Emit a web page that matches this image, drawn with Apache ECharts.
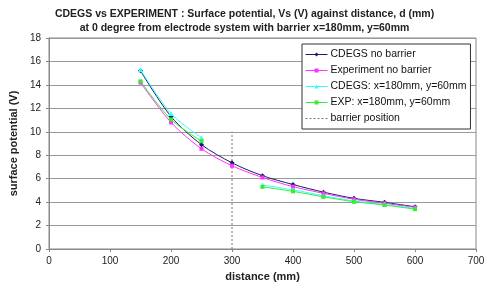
<!DOCTYPE html>
<html>
<head>
<meta charset="utf-8">
<script src="https://cdn.jsdelivr.net/npm/echarts@6/dist/echarts.min.js"></script>
<style>
  html, body { margin: 0; padding: 0; background: #fff; }
  #chart { width: 489px; height: 291px; }
</style>
</head>
<body>
<div id="chart"></div>
<script>
// distances (mm)
var distances = [150, 200, 250, 300, 350, 400, 450, 500, 550, 600];
// surface potential (V)
var cdegsNoBarrier = [15.2, 11.3, 8.9, 7.35, 6.25, 5.5, 4.85, 4.32, 3.98, 3.6];
var expNoBarrier = [14.2, 10.8, 8.55, 7.1, 6.1, 5.32, 4.75, 4.24, 3.9, 3.55];
var cdegsBarrier = [15.3, 11.55, 9.5, null, 5.45, 5.05, 4.55, 4.1, 3.8, 3.45];
var expBarrier = [14.3, 11.05, 9.2, null, 5.3, 4.92, 4.45, 4.04, 3.75, 3.4];
var barrierX = 300;
var barrierTop = 10;

function pairs(vals) {
  return distances.map(function (d, i) { return [d, vals[i]]; });
}

var chart = echarts.init(document.getElementById('chart'));

function mk(name, vals, color, symbol, size) {
  return {
    name: name,
    type: 'line',
    smooth: 0.3,
    data: pairs(vals),
    symbol: symbol,
    symbolSize: size,
    showSymbol: true,
    connectNulls: false,
    lineStyle: { color: color, width: 1 },
    itemStyle: { color: color },
    z: 3
  };
}

var option = {
  backgroundColor: '#fff',
  animation: false,
  title: {
    text: 'CDEGS vs EXPERIMENT : Surface potential, Vs (V) against distance, d (mm)\nat 0 degree from electrode system with barrier x=180mm, y=60mm',
    left: 'center',
    top: 2,
    textStyle: {
      fontFamily: 'Liberation Sans',
      fontSize: 10.5,
      fontWeight: 'bold',
      color: '#222',
      lineHeight: 14
    }
  },
  legend: {
    orient: 'vertical',
    left: 302,
    top: 44,
    padding: [5, 4, 5, 3],
    itemGap: 5,
    itemWidth: 22,
    itemHeight: 5,
    borderColor: '#333',
    borderWidth: 1,
    backgroundColor: '#fff',
    lineStyle: { width: 1 },
    textStyle: { fontFamily: 'Liberation Sans', fontSize: 10.5, color: '#111', padding: [0, 0, 0, -2] },
    data: [
      'CDEGS no barrier',
      'Experiment no barrier',
      'CDEGS: x=180mm, y=60mm',
      'EXP: x=180mm, y=60mm',
      { name: 'barrier position', itemStyle: { opacity: 0 } }
    ]
  },
  grid: {
    left: 47,
    right: 13,
    top: 38,
    bottom: 42,
    show: true,
    borderColor: '#888',
    borderWidth: 1
  },
  xAxis: {
    type: 'value',
    min: 0,
    max: 700,
    interval: 100,
    name: 'distance (mm)',
    nameLocation: 'middle',
    nameGap: 22,
    nameTextStyle: { fontFamily: 'Liberation Sans', fontSize: 11, fontWeight: 'bold', color: '#222' },
    axisLine: { lineStyle: { color: '#888' } },
    axisTick: { show: true, length: 3, lineStyle: { color: '#888' } },
    axisLabel: { fontFamily: 'Liberation Sans', fontSize: 10, color: '#222', margin: 7 },
    splitLine: { show: false }
  },
  yAxis: {
    type: 'value',
    min: 0,
    max: 18,
    interval: 2,
    name: 'surface potential (V)',
    nameLocation: 'middle',
    nameGap: 27,
    nameTextStyle: { fontFamily: 'Liberation Sans', fontSize: 11, fontWeight: 'bold', color: '#222' },
    axisLine: { show: true, lineStyle: { color: '#888' } },
    axisTick: { show: true, length: 3, lineStyle: { color: '#888' } },
    axisLabel: { fontFamily: 'Liberation Sans', fontSize: 10, color: '#222', margin: 8 },
    splitLine: { show: true, lineStyle: { color: '#999', width: 1 } }
  },
  series: [
    mk('CDEGS no barrier', cdegsNoBarrier, '#1a1a66', 'diamond', 5),
    mk('Experiment no barrier', expNoBarrier, '#ff33ff', 'rect', 4),
    mk('CDEGS: x=180mm, y=60mm', cdegsBarrier, '#33ffff', 'triangle', 5),
    mk('EXP: x=180mm, y=60mm', expBarrier, '#33ee33', 'rect', 4),
    {
      name: 'barrier position',
      type: 'line',
      data: [[barrierX, 0], [barrierX, barrierTop]],
      symbol: 'none',
      lineStyle: { color: '#777', width: 1, type: [2, 2] },
      itemStyle: { color: '#777' },
      z: 2
    }
  ]
};

chart.setOption(option);
</script>
</body>
</html>
